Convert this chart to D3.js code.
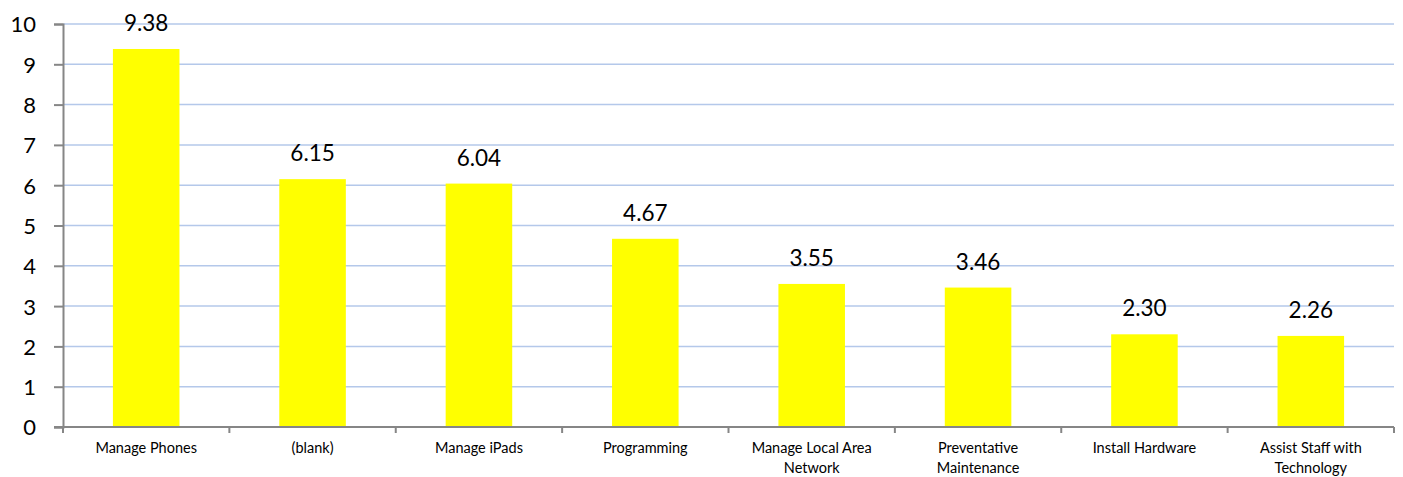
<!DOCTYPE html>
<html>
<head>
<meta charset="utf-8">
<script src="https://cdn.jsdelivr.net/npm/d3@7"></script>
<style>
  body { margin: 0; background: #fff; }
  text { font-family: Lato, "Open Sans", sans-serif; fill: #000; }
</style>
</head>
<body>
<div id="canvas"></div>
<script>
const categories = [
  "Manage Phones",
  "(blank)",
  "Manage iPads",
  "Programming",
  "Manage Local Area Network",
  "Preventative Maintenance",
  "Install Hardware",
  "Assist Staff with Technology",
];
const values = [9.38, 6.15, 6.04, 4.67, 3.55, 3.46, 2.3, 2.26];
const yTicks = [0, 1, 2, 3, 4, 5, 6, 7, 8, 9, 10];

// category labels wrap like the original
const labelLines = {
  "Manage Local Area Network": ["Manage Local Area", "Network"],
  "Preventative Maintenance": ["Preventative", "Maintenance"],
  "Assist Staff with Technology": ["Assist Staff with", "Technology"],
};

const width = 1403;
const height = 477;
const margin = { top: 24, left: 63, bottom: 50, right: 9 };
const iwidth = width - margin.left - margin.right;
const iheight = height - margin.top - margin.bottom;

const svg = d3.select("#canvas").append("svg")
  .attr("width", width)
  .attr("height", height);

const g = svg.append("g")
  .attr("transform", `translate(${margin.left},${margin.top})`);

const x = d3.scaleBand()
  .domain(categories)
  .range([0, iwidth])
  .paddingInner(0.6)
  .paddingOuter(0.3);

const y = d3.scaleLinear()
  .domain([0, 10])
  .range([iheight, 0]);

// gridlines
g.selectAll(".grid")
  .data(yTicks.filter((d) => d > 0))
  .enter()
  .append("line")
  .attr("x1", 0)
  .attr("x2", iwidth)
  .attr("y1", (d) => y(d))
  .attr("y2", (d) => y(d))
  .attr("stroke", "#b4c8ea")
  .attr("stroke-width", 1.5);

g.selectAll("rect")
  .data(values)
  .enter()
  .append("rect")
  .style("fill", "#ffff00")
  .attr("x", (d, i) => x(categories[i]))
  .attr("y", (d) => y(d))
  .attr("width", x.bandwidth())
  .attr("height", (d) => iheight - y(d));

// value labels above bars
g.selectAll(".label")
  .data(values)
  .enter()
  .append("text")
  .attr("class", "label")
  .attr("text-anchor", "middle")
  .style("font-size", "22.5px")
  .attr("x", (d, i) => x(categories[i]) + x.bandwidth() / 2)
  .attr("y", (d) => y(d) - 18)
  .text((d) => d.toFixed(2));

// y axis
const yAxis = g.append("g")
  .call(d3.axisLeft(y).tickValues(yTicks).tickSize(9).tickPadding(18).tickFormat(d3.format("d")));
yAxis.select(".domain").attr("stroke", "#868686").attr("stroke-width", 2);
yAxis.selectAll(".tick line").attr("stroke", "#868686").attr("stroke-width", 2);
yAxis.selectAll(".tick text").style("font-size", "22px").attr("dy", "0.36em");

// x axis with ticks between categories
const xa = g.append("g").attr("transform", `translate(0,${iheight})`);
xa.append("line")
  .attr("x1", -9).attr("x2", iwidth)
  .attr("stroke", "#868686").attr("stroke-width", 2);
const step = iwidth / categories.length;
xa.selectAll(".xt")
  .data(d3.range(categories.length + 1))
  .enter()
  .append("line")
  .attr("x1", (d) => d * step)
  .attr("x2", (d) => d * step)
  .attr("y1", 0)
  .attr("y2", 6)
  .attr("stroke", "#868686")
  .attr("stroke-width", 2);

xa.selectAll(".cat")
  .data(categories)
  .enter()
  .append("text")
  .attr("text-anchor", "middle")
  .style("font-size", "14.5px")
  .attr("x", (d) => x(d) + x.bandwidth() / 2)
  .attr("y", 26)
  .each(function (d) {
    const lines = labelLines[d] || [d];
    d3.select(this).selectAll("tspan")
      .data(lines)
      .enter()
      .append("tspan")
      .attr("x", x(d) + x.bandwidth() / 2)
      .attr("dy", (l, i) => (i === 0 ? 0 : 20))
      .text((l) => l);
  });
</script>
</body>
</html>
